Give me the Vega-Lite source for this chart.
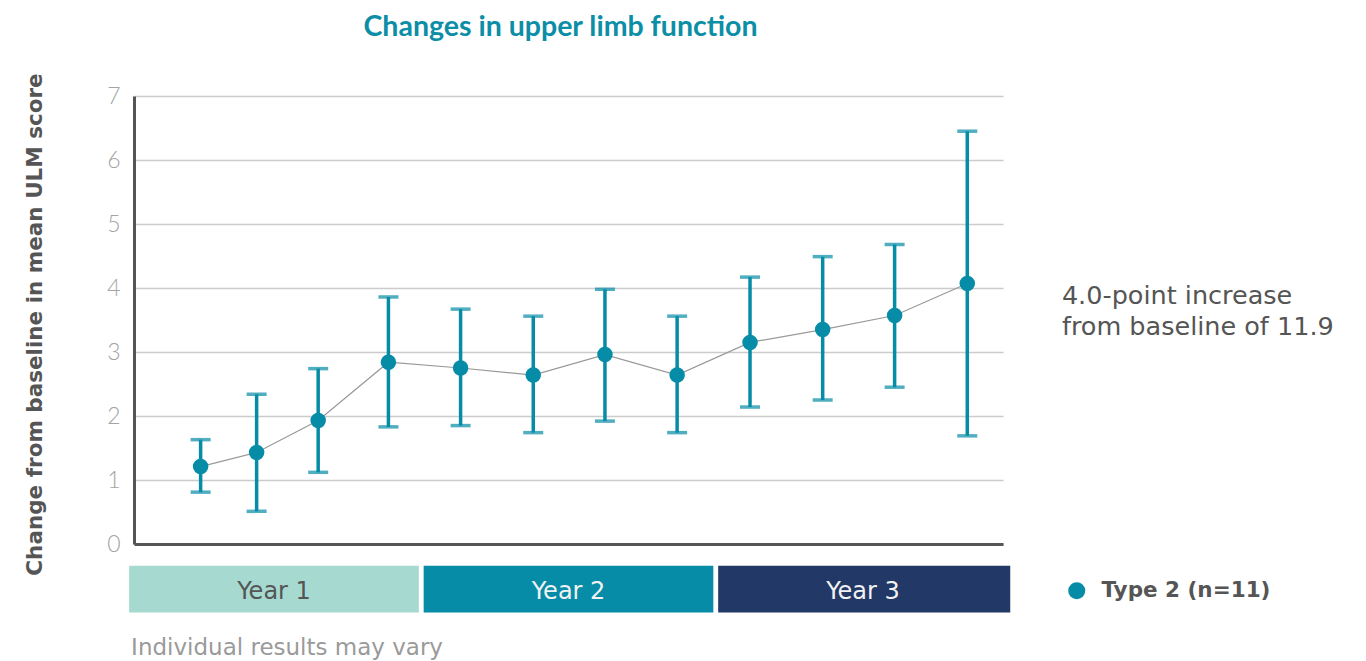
{
  "$schema": "https://vega.github.io/schema/vega-lite/v6.json",
  "width": 869,
  "height": 448,
  "autosize": "none",
  "padding": {"left": 134, "top": 96, "right": 363, "bottom": 117},
  "background": "#ffffff",
  "config": {
    "view": {"stroke": null},
    "font": "Lato",
    "text": {"font": "DejaVu Sans"}
  },
  "title": {
    "text": "Changes in upper limb function",
    "font": "Lato",
    "fontSize": 28.5,
    "fontWeight": "bold",
    "color": "#0b8ea6",
    "anchor": "middle",
    "frame": "group",
    "offset": 31,
    "dx": -8
  },
  "datasets": {
    "pts": [
      {"month": 2.76, "mean": 1.21, "lower": 0.81, "upper": 1.63, "group": "Type 2 (n=11)"},
      {"month": 5.08, "mean": 1.43, "lower": 0.51, "upper": 2.34, "group": "Type 2 (n=11)"},
      {"month": 7.63, "mean": 1.93, "lower": 1.12, "upper": 2.74, "group": "Type 2 (n=11)"},
      {"month": 10.54, "mean": 2.84, "lower": 1.83, "upper": 3.86, "group": "Type 2 (n=11)"},
      {"month": 13.53, "mean": 2.75, "lower": 1.85, "upper": 3.67, "group": "Type 2 (n=11)"},
      {"month": 16.54, "mean": 2.64, "lower": 1.74, "upper": 3.56, "group": "Type 2 (n=11)"},
      {"month": 19.51, "mean": 2.96, "lower": 1.92, "upper": 3.98, "group": "Type 2 (n=11)"},
      {"month": 22.5, "mean": 2.64, "lower": 1.74, "upper": 3.56, "group": "Type 2 (n=11)"},
      {"month": 25.52, "mean": 3.15, "lower": 2.14, "upper": 4.17, "group": "Type 2 (n=11)"},
      {"month": 28.53, "mean": 3.35, "lower": 2.25, "upper": 4.49, "group": "Type 2 (n=11)"},
      {"month": 31.51, "mean": 3.57, "lower": 2.45, "upper": 4.68, "group": "Type 2 (n=11)"},
      {"month": 34.52, "mean": 4.07, "lower": 1.69, "upper": 6.45, "group": "Type 2 (n=11)"}
    ],
    "years": [
      {"year": "Year 1", "start": -0.2, "end": 11.8, "mid": 5.8},
      {"year": "Year 2", "start": 12.0, "end": 24.0, "mid": 18.0},
      {"year": "Year 3", "start": 24.2, "end": 36.3, "mid": 30.2}
    ]
  },
  "layer": [
    {
      "data": {"name": "years"},
      "mark": {"type": "rect", "clip": false},
      "encoding": {
        "x": {"field": "start", "type": "quantitative", "title": null, "scale": {"domain": [0, 36], "nice": false, "zero": false},
              "axis": {"labels": false, "ticks": false, "grid": false, "title": null, "domainColor": "#555555", "domainWidth": 3}},
        "x2": {"field": "end"},
        "y": {"datum": -0.34, "type": "quantitative", "title": "Change from baseline in mean ULM score",
              "scale": {"domain": [0, 7], "nice": false},
              "axis": {"values": [0,1,2,3,4,5,6,7], "format": "d", "ticks": false, "grid": true, "gridColor": "#cccccc", "gridWidth": 1.5,
                       "domainColor": "#555555", "domainWidth": 3, "labelFontSize": 23, "labelFontWeight": 300,
                       "labelColor": "#a3a3a3", "labelPadding": 14, "labelFont": "Lato",
                       "title": "Change from baseline in mean ULM score", "titleFont": "DejaVu Sans", "titleFontSize": 21.5,
                       "titleFontWeight": "bold", "titleColor": "#555555", "titlePadding": 60, "titleY": 228}},
        "y2": {"datum": -1.07},
        "fill": {"field": "year", "type": "nominal", "scale": {"domain": ["Year 1", "Year 2", "Year 3"], "range": ["#a6dad0", "#078ca7", "#223866"]}, "legend": null}
      }
    },
    {
      "data": {"name": "years"},
      "mark": {"type": "text", "clip": false, "fontSize": 24, "baseline": "middle", "align": "center", "font": "DejaVu Sans"},
      "encoding": {
        "x": {"field": "mid", "type": "quantitative", "title": null},
        "y": {"datum": -0.745, "type": "quantitative", "title": "Change from baseline in mean ULM score"},
        "text": {"field": "year"},
        "color": {"condition": {"test": "datum.year === 'Year 1'", "value": "#555555"}, "value": "#f2f2f2"}
      }
    },
    {
      "data": {"name": "pts"},
      "mark": {"type": "line", "color": "#999999", "strokeWidth": 1.2},
      "encoding": {
        "x": {"field": "month", "type": "quantitative", "title": null},
        "y": {"field": "mean", "type": "quantitative", "title": "Change from baseline in mean ULM score"}
      }
    },
    {
      "data": {"name": "pts"},
      "mark": {"type": "errorbar", "color": "#078ca7", "thickness": 3.5, "ticks": {"size": 20, "thickness": 3.5, "color": "#078ca7"}},
      "encoding": {
        "x": {"field": "month", "type": "quantitative", "title": null},
        "y": {"field": "lower", "type": "quantitative", "title": "Change from baseline in mean ULM score"},
        "y2": {"field": "upper"}
      }
    },
    {
      "data": {"name": "pts"},
      "mark": {"type": "point", "shape": "circle", "filled": true, "size": 240, "opacity": 1},
      "encoding": {
        "x": {"field": "month", "type": "quantitative", "title": null},
        "y": {"field": "mean", "type": "quantitative", "title": "Change from baseline in mean ULM score"},
        "color": {"field": "group", "type": "nominal", "scale": {"range": ["#078ca7"]},
                  "legend": {"title": null, "orient": "none", "legendX": 932, "legendY": 484, "padding": 0,
                             "symbolType": "circle", "symbolSize": 290, "symbolOpacity": 1,
                             "labelFont": "DejaVu Sans", "labelFontSize": 21.5, "labelFontWeight": "bold", "labelColor": "#555555",
                             "labelOffset": 14, "labelLimit": 300}}
      }
    },
    {
      "data": {"values": [{"note": "4.0-point increase\nfrom baseline of 11.9"}]},
      "mark": {"type": "text", "clip": false, "align": "left", "baseline": "middle", "fontSize": 25.5, "lineBreak": "\n", "lineHeight": 31, "color": "#555555", "font": "DejaVu Sans"},
      "encoding": {
        "x": {"datum": 38.44, "type": "quantitative"},
        "y": {"datum": 3.875, "type": "quantitative"},
        "text": {"field": "note"}
      }
    },
    {
      "data": {"values": [{"note": "Individual results may vary"}]},
      "mark": {"type": "text", "clip": false, "align": "left", "baseline": "middle", "fontSize": 23, "color": "#9a9a9a", "font": "DejaVu Sans"},
      "encoding": {
        "x": {"datum": -0.12, "type": "quantitative"},
        "y": {"datum": -1.625, "type": "quantitative"},
        "text": {"field": "note"}
      }
    }
  ]
}
